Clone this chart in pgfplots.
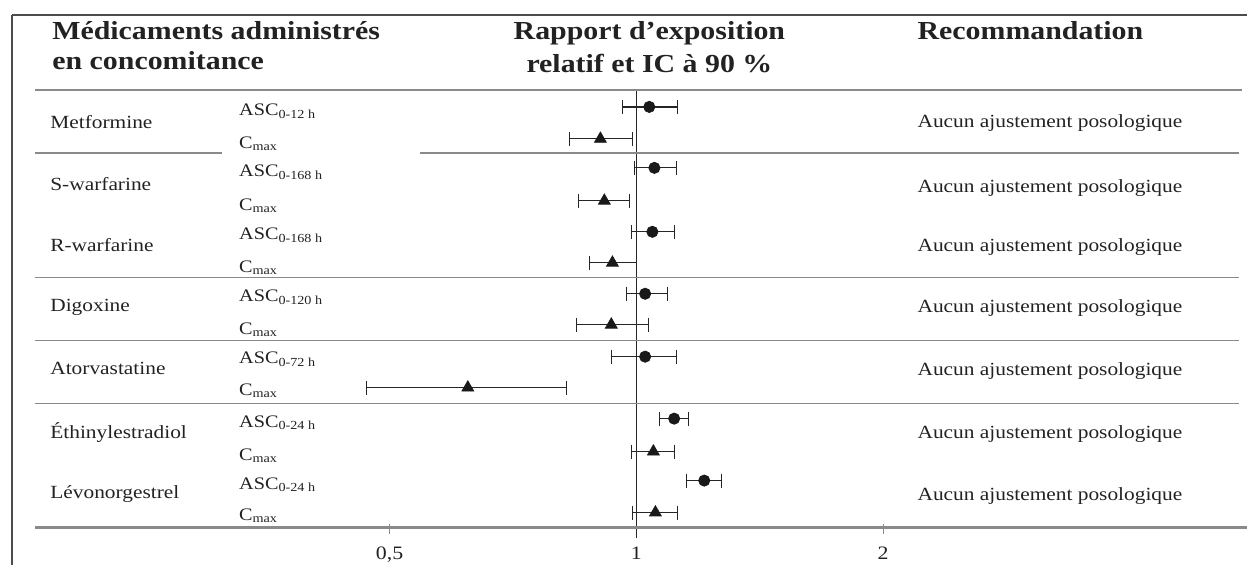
\documentclass[border=0pt]{standalone}
\usepackage{fontspec}
\setmainfont{Liberation Serif}[FakeStretch=1.15]
\usepackage{pgfplots}
\pgfplotsset{compat=1.18}
\definecolor{txt}{HTML}{222222}
\definecolor{rule}{HTML}{8A8A8A}
\begin{document}
\begin{tikzpicture}
\begin{axis}[width=624pt,height=283pt,scale only axis,
  xmode=log, log basis x=2, xmin=0.16747, xmax=5.554,
  ymin=0, ymax=566, y dir=reverse, hide axis, clip=false]
\coordinate (TL) at (axis cs:0.16747,0);
\draw[black!85, line width=0.6pt] (axis cs:1,90) -- (axis cs:1,538);
% 90% CI bars
\pgfplotsset{ci/.style={black!85, line width=0.6pt, mark=|, mark size=3.5pt, mark options={line width=0.6pt}}}
\addplot[ci] coordinates {(0.961,107) (1.122,107)};
\addplot[ci] coordinates {(0.829,139) (0.989,139)};
\addplot[ci] coordinates {(0.994,168) (1.119,168)};
\addplot[ci] coordinates {(0.850,201) (0.980,201)};
\addplot[ci] coordinates {(0.986,232) (1.112,232)};
\addplot[ci] coordinates {(0.876,263) (1.000,263)};
\addplot[ci] coordinates {(0.972,294) (1.091,294)};
\addplot[ci] coordinates {(0.845,325) (1.034,325)};
\addplot[ci] coordinates {(0.932,357) (1.119,357)};
\addplot[ci] coordinates {(0.469,388) (0.822,388)};
\addplot[ci] coordinates {(1.067,419) (1.157,419)};
\addplot[ci] coordinates {(0.986,452) (1.112,452)};
\addplot[ci] coordinates {(1.151,481) (1.269,481)};
\addplot[ci] coordinates {(0.989,513) (1.122,513)};
% point estimates: AUC (circles), Cmax (triangles)
\addplot[only marks, mark=*, mark size=2.8pt, black!90] coordinates {
(1.037,107) (1.052,168) (1.046,232) (1.025,294) (1.025,357) (1.112,419) (1.210,481)};
\addplot[only marks, mark=triangle*, mark size=3.4pt, black!90] coordinates {
(0.904,139) (0.914,201) (0.935,263) (0.932,325) (0.623,388) (1.049,452) (1.055,513)};
% tick labels
\node[anchor=base, txt, font=\fontsize{9.5}{11}\selectfont] at (axis cs:0.5,560) {0,5};
\node[anchor=base, txt, font=\fontsize{9.5}{11}\selectfont] at (axis cs:1,560) {1};
\node[anchor=base, txt, font=\fontsize{9.5}{11}\selectfont] at (axis cs:2,560) {2};
\draw[rule, line width=0.6pt] (axis cs:0.5,524) -- (axis cs:0.5,534);
\draw[rule, line width=0.6pt] (axis cs:2,524) -- (axis cs:2,534);
\end{axis}
\begin{scope}[shift={(TL)}, x=0.5pt, y=-0.5pt]
\path (0,0) rectangle (1248,566);
% frame
\draw[black!70, line width=0.9pt] (12,15) -- (1248,15);
\draw[black!70, line width=0.9pt] (12,15) -- (12,566);
% rules
\draw[rule, line width=0.9pt] (35,90) -- (1243,90);
\draw[rule, line width=0.7pt] (35,153) -- (222,153);
\draw[rule, line width=0.7pt] (420,153) -- (1240,153);
\draw[rule, line width=0.7pt] (35,278) -- (1240,278);
\draw[rule, line width=0.7pt] (35,341) -- (1240,341);
\draw[rule, line width=0.7pt] (35,404) -- (1240,404);
\draw[rule, line width=1.1pt] (35,528) -- (1248,528);
% headers
\begin{scope}[every node/.style={txt, inner sep=0pt, font=\bfseries\fontsize{13}{15}\selectfont}]
\node[anchor=base west] at (52,40) {Médicaments administrés};
\node[anchor=base west] at (52,70) {en concomitance};
\node[anchor=base] at (650,40) {Rapport d’exposition};
\node[anchor=base] at (650,73) {relatif et IC à 90 \%};
\node[anchor=base west] at (918,40) {Recommandation};
\end{scope}
% drug names
\begin{scope}[every node/.style={txt, inner sep=0pt, anchor=base west, font=\fontsize{9.3}{11}\selectfont}]
\node at (50,129) {Metformine};
\node at (50,191) {S-warfarine};
\node at (50,252) {R-warfarine};
\node at (50,312) {Digoxine};
\node at (50,375) {Atorvastatine};
\node at (50,439) {Éthinylestradiol};
\node at (50,499) {Lévonorgestrel};
\foreach \yy in {128,193,252,313,376,439,501}
  \node at (918,\yy) {Aucun ajustement posologique};
\end{scope}
% parameters
\begin{scope}[every node/.style={txt, inner sep=0pt, anchor=base west, font=\fontsize{8.8}{10}\selectfont}]
\node at (239,116) {ASC\textsubscript{0-12 h}};
\node at (239,149) {C\textsubscript{max}};
\node at (239,177) {ASC\textsubscript{0-168 h}};
\node at (239,211) {C\textsubscript{max}};
\node at (239,240) {ASC\textsubscript{0-168 h}};
\node at (239,273) {C\textsubscript{max}};
\node at (239,302) {ASC\textsubscript{0-120 h}};
\node at (239,335) {C\textsubscript{max}};
\node at (239,364) {ASC\textsubscript{0-72 h}};
\node at (239,396) {C\textsubscript{max}};
\node at (239,428) {ASC\textsubscript{0-24 h}};
\node at (239,461) {C\textsubscript{max}};
\node at (239,490) {ASC\textsubscript{0-24 h}};
\node at (239,521) {C\textsubscript{max}};
\end{scope}
\end{scope}
\end{tikzpicture}
\end{document}
